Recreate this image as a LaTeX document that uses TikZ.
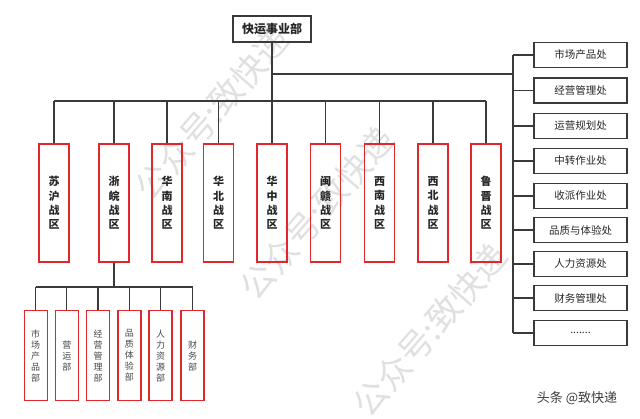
\documentclass[tikz,border=0pt]{standalone}
\usepackage{fontspec}
\setmainfont{Noto Sans CJK SC}
\usepackage{tikz}

\begin{document}
\begin{tikzpicture}[x=1pt,y=-1pt,
  linea/.style={draw=colLinea, line width=1.2pt},
  capo/.style={draw=colLinea, line width=1.3pt, minimum width=78pt, minimum height=26pt, inner sep=0pt, font=\bfseries\fontsize{12}{14}\selectfont, text=colTesto},
  zona/.style={draw=colRosso, line width=1.4pt, minimum width=30pt, minimum height=118pt, inner sep=0pt, align=center, font=\bfseries\fontsize{11}{14.4}\selectfont, text=colTesto},
  ufficio/.style={draw=colLinea, line width=1.3pt, minimum width=93pt, minimum height=25pt, inner sep=0pt, font=\fontsize{10.5}{12}\selectfont, text=colTesto},
  reparto/.style={draw=colRosso, line width=1.4pt, minimum width=23pt, minimum height=90pt, inner sep=0pt, align=center, font=\fontsize{9}{11}\selectfont, text=colTesto!85},
  filigrana/.style={text=black!12, font=\fontsize{34}{34}\selectfont, rotate=49}]

% Colori
\definecolor{colRosso}{HTML}{E3262C}
\definecolor{colLinea}{HTML}{3A3A3A}
\definecolor{colTesto}{HTML}{262626}

\useasboundingbox (0,0) rectangle (640,419);

% Filigrana
\node[filigrana] (fil1) at (212,113) {公众号:致快递};
\node[filigrana] (fil2) at (317,213) {公众号:致快递};
\node[filigrana] (fil3) at (430,330) {公众号:致快递};

% Vertice
\node[capo] (capo) at (272,29) {快运事业部};

% Linee di raccolta
\coordinate (busZ) at (272,101);
\coordinate (busU) at (513,55);
\coordinate (busF) at (513,333);
\coordinate (busR) at (114,287);

% Zone (战区)
\node[zona] (z1) at (54,203) {苏\\沪\\战\\区};
\node[zona] (z2) at (114,203) {浙\\皖\\战\\区};
\node[zona] (z3) at (167,203) {华\\南\\战\\区};
\node[zona] (z4) at (218.5,203) {华\\北\\战\\区};
\node[zona] (z5) at (272,203) {华\\中\\战\\区};
\node[zona] (z6) at (325.5,203) {闽\\赣\\战\\区};
\node[zona] (z7) at (379.5,203) {西\\南\\战\\区};
\node[zona] (z8) at (433,203) {西\\北\\战\\区};
\node[zona] (z9) at (486,203) {鲁\\晋\\战\\区};

% Uffici (右侧职能处)
\node[ufficio] (u1) at (580.5,55) {市场产品处};
\node[ufficio] (u2) at (580.5,90.5) {经营管理处};
\node[ufficio] (u3) at (580.5,126) {运营规划处};
\node[ufficio] (u4) at (580.5,161) {中转作业处};
\node[ufficio] (u5) at (580.5,196) {收派作业处};
\node[ufficio] (u6) at (580.5,230) {品质与体验处};
\node[ufficio] (u7) at (580.5,264) {人力资源处};
\node[ufficio] (u8) at (580.5,298) {财务管理处};
\node[ufficio] (u9) at (580.5,333) {.......};

% Reparti (浙皖战区)
\node[reparto] (r1) at (35.7,355.7) {市\\场\\产\\品\\部};
\node[reparto] (r2) at (66.8,355.7) {营\\运\\部};
\node[reparto] (r3) at (98,355.7) {经\\营\\管\\理\\部};
\node[reparto] (r4) at (129.3,355.7) {品\\质\\体\\验\\部};
\node[reparto] (r5) at (160.5,355.7) {人\\力\\资\\源\\部};
\node[reparto] (r6) at (192.5,355.7) {财\\务\\部};

% Collegamenti: vertice -> zone
\draw[linea] (capo.south) -- (busZ);
\draw[linea] (z1.north |- busZ) -- (z9.north |- busZ);
\draw[linea] (z1.north) -- (z1.north |- busZ);
\draw[linea] (z2.north) -- (z2.north |- busZ);
\draw[linea] (z3.north) -- (z3.north |- busZ);
\draw[linea] (z4.north) -- (z4.north |- busZ);
\draw[linea] (z5.north) -- (z5.north |- busZ);
\draw[linea] (z6.north) -- (z6.north |- busZ);
\draw[linea] (z7.north) -- (z7.north |- busZ);
\draw[linea] (z8.north) -- (z8.north |- busZ);
\draw[linea] (z9.north) -- (z9.north |- busZ);

% Collegamenti: vertice -> uffici
\draw[linea] (capo.south |- 0,74) -- (busU |- 0,74);
\draw[linea] (busU) -- (busF);
\draw[linea] (u1.west) -- (u1.west -| busU);
\draw[linea] (u2.west) -- (u2.west -| busU);
\draw[linea] (u3.west) -- (u3.west -| busU);
\draw[linea] (u4.west) -- (u4.west -| busU);
\draw[linea] (u5.west) -- (u5.west -| busU);
\draw[linea] (u6.west) -- (u6.west -| busU);
\draw[linea] (u7.west) -- (u7.west -| busU);
\draw[linea] (u8.west) -- (u8.west -| busU);
\draw[linea] (u9.west) -- (u9.west -| busU);

% Collegamenti: 浙皖战区 -> reparti
\draw[linea] (z2.south) -- (busR);
\draw[linea] (r1.north |- busR) -- (r6.north |- busR);
\draw[linea] (r1.north) -- (r1.north |- busR);
\draw[linea] (r2.north) -- (r2.north |- busR);
\draw[linea] (r3.north) -- (r3.north |- busR);
\draw[linea] (r4.north) -- (r4.north |- busR);
\draw[linea] (r5.north) -- (r5.north |- busR);
\draw[linea] (r6.north) -- (r6.north |- busR);

% Marchio
\node[text=colTesto!90, font=\fontsize{13}{13}\selectfont] (marchio) at (577,398) {头条 @致快递};

\end{tikzpicture}
\end{document}
